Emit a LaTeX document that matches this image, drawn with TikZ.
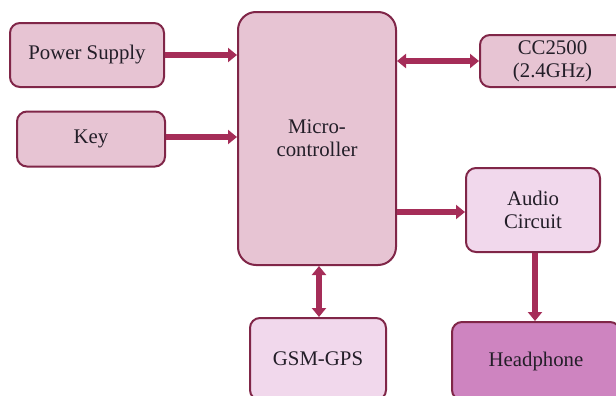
\documentclass[tikz,border=0pt]{standalone}
\usepackage{fontspec}
\setmainfont{Liberation Serif}
\usetikzlibrary{positioning, arrows.meta, calc}
\definecolor{blockcol}{RGB}{128,38,72}
\definecolor{arrowcol}{RGB}{165,45,88}
\definecolor{fillmain}{RGB}{231,196,211}
\definecolor{filllight}{RGB}{241,216,236}
\definecolor{fillhead}{RGB}{206,132,192}
\definecolor{textcol}{RGB}{35,30,40}

\begin{document}
\begin{tikzpicture}[
			x=0.5pt, y=-0.5pt,
			block/.style={
				draw=blockcol,
				rectangle,
				rounded corners=5pt,
				line width=1pt,
				fill=fillmain,
				text=textcol,
				align=center,
				font=\fontsize{10.4}{11.5}\selectfont,
				inner sep=2pt
			},
			link/.style={
				draw=arrowcol,
				line width=3.2pt,
				-{Triangle[length=4.5pt,width=7pt]}
			},
			dlink/.style={
				link,
				{Triangle[length=4.5pt,width=7pt]}-{Triangle[length=4.5pt,width=7pt]}
			}
			]
			\useasboundingbox (0,0) rectangle (616,396);
			% Blocks
			\node[block, minimum width=77pt, minimum height=32pt] (ps) at (87,55) {Power Supply};
			\node[block, minimum width=74pt, minimum height=27.5pt] (key) at (91,139) {Key};
			\node[block, minimum width=79pt, minimum height=126.5pt, rounded corners=9pt] (mc) at (317,138.5) {Micro-\\controller};
			\node[block, minimum width=72.5pt, minimum height=26pt] (cc) at (552.5,61) {CC2500\\(2.4GHz)};
			\node[block, fill=filllight, minimum width=67pt, minimum height=42pt] (audio) at (533,210) {Audio\\Circuit};
			\node[block, fill=fillhead, minimum width=84pt, minimum height=39pt] (head) at (536,361) {Headphone};
			\node[block, fill=filllight, minimum width=68pt, minimum height=41pt] (gsm) at (318,359) {GSM-GPS};

			% Connections
			\coordinate (mcb) at ($(mc.south)+(2,0)$);
			\coordinate (aub) at ($(audio.south)+(2,0)$);
			\draw[link] (ps.east) -- (ps.east -| mc.west);
			\draw[link] ($(key.east)+(0,-2)$) -- ($(key.east -| mc.west)+(0,-2)$);
			\draw[dlink] (cc.west -| mc.east) -- (cc.west);
			\draw[link] ($(audio.west -| mc.east)+(0,2)$) -- ($(audio.west)+(0,2)$);
			\draw[dlink] (mcb) -- (mcb |- gsm.north);
			\draw[link] (aub) -- (aub |- head.north);
		\end{tikzpicture}
\end{document}
